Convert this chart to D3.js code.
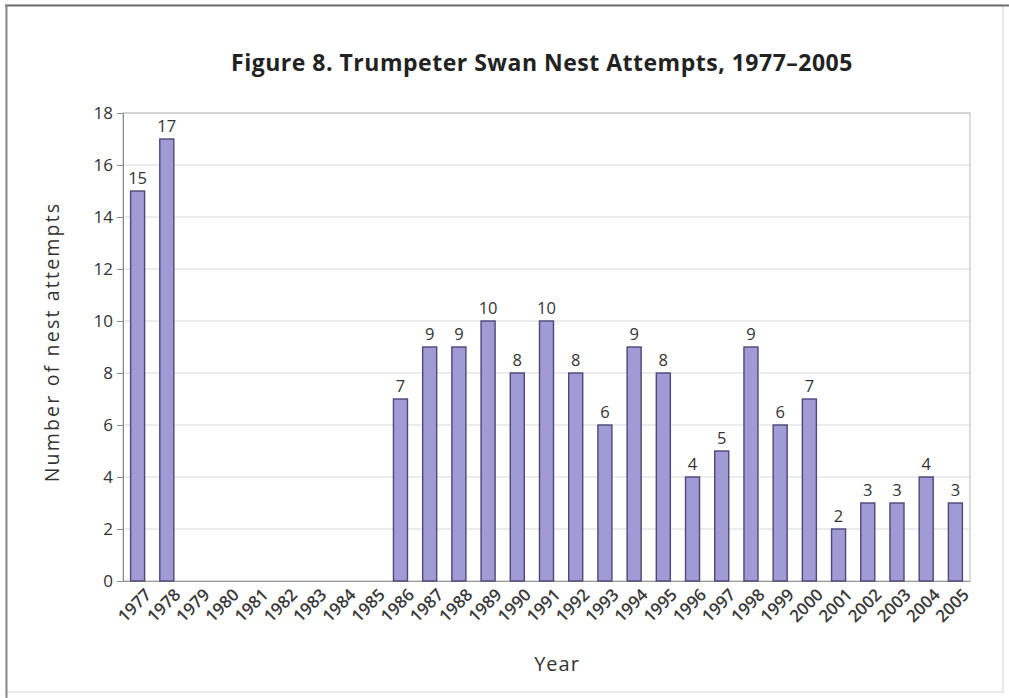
<!DOCTYPE html>
<html><head><meta charset="utf-8">
<script src="https://cdn.jsdelivr.net/npm/d3@7"></script>
<style>body{margin:0;background:#fff}svg{display:block}</style>
</head><body>
<script>
const years = ["1977","1978","1979","1980","1981","1982","1983","1984","1985","1986","1987","1988","1989","1990","1991","1992","1993","1994","1995","1996","1997","1998","1999","2000","2001","2002","2003","2004","2005"];
const nests = [15,17,null,null,null,null,null,null,null,7,9,9,10,8,10,8,6,9,8,4,5,9,6,7,2,3,3,4,3];
const yTicks = [0,2,4,6,8,10,12,14,16,18];
const title = "Figure 8. Trumpeter Swan Nest Attempts, 1977\u20132005";

const W=1009,H=698;
const svg=d3.select("body").append("svg").attr("width",W).attr("height",H);
const font="'Open Sans', sans-serif";

// frame
svg.append("rect").attr("x",6).attr("y",5).attr("width",997).attr("height",687).attr("fill","none").attr("stroke","#e2e2e2").attr("stroke-width",1.5);
svg.append("line").attr("x1",5).attr("x2",1009).attr("y1",5.5).attr("y2",5.5).attr("stroke","#6e6e6e").attr("stroke-width",2);
svg.append("line").attr("x1",6.5).attr("x2",6.5).attr("y1",5).attr("y2",698).attr("stroke","#8a8a8a").attr("stroke-width",2);

const L=123,R=970,T=113,B=581;
const x=d3.scaleBand().domain(years).range([L,R]).paddingInner(0.52).paddingOuter(0.26);
const y=d3.scaleLinear().domain([0,18]).range([B,T]);

// grid
svg.append("g").selectAll("line").data(yTicks.filter(d=>d>0)).join("line")
  .attr("x1",L).attr("x2",R).attr("y1",d=>y(d)).attr("y2",d=>y(d))
  .attr("stroke","#dadada").attr("stroke-width",1.2);
svg.append("rect").attr("x",L).attr("y",T).attr("width",R-L).attr("height",B-T)
  .attr("fill","none").attr("stroke","#c4c4c4").attr("stroke-width",1.2);

// y axis
const ya=svg.append("g").attr("transform",`translate(${L},0)`)
  .call(d3.axisLeft(y).tickValues(yTicks).tickSize(6).tickPadding(4));
ya.select(".domain").attr("stroke","#8a8a8a");
ya.selectAll(".tick line").attr("stroke","#8a8a8a");
ya.selectAll("text").attr("font-family",font).attr("font-size",17).attr("fill","#333");

// x axis
const xa=svg.append("g").attr("transform",`translate(0,${B})`)
  .call(d3.axisBottom(x).tickSize(0).tickPadding(6));
xa.select(".domain").attr("stroke","#9a9a9a");
xa.selectAll("text").attr("font-family",font).attr("font-size",17).attr("font-weight",600).attr("fill","#3a3a3a")
  .attr("text-anchor","end").attr("dy","0.3em")
  .attr("transform","translate(7,7) rotate(-45)");

// bars
const data=years.map((yr,i)=>({yr,v:nests[i]})).filter(d=>d.v!=null);
svg.append("g").selectAll("rect").data(data).join("rect")
  .attr("x",d=>x(d.yr)).attr("width",x.bandwidth())
  .attr("y",d=>y(d.v)).attr("height",d=>B-y(d.v))
  .attr("fill","#a09bd4").attr("stroke","#4c4878").attr("stroke-width",1.4);
svg.append("g").selectAll("text").data(data).join("text")
  .attr("x",d=>x(d.yr)+x.bandwidth()/2).attr("y",d=>y(d.v)-7)
  .attr("text-anchor","middle").attr("font-family",font).attr("font-size",16.5).attr("fill","#333")
  .text(d=>d.v);

// titles
svg.append("text").attr("x",542).attr("y",71).attr("text-anchor","middle")
  .attr("font-family",font).attr("font-weight","bold").attr("font-size",23).attr("letter-spacing",0.5).attr("fill","#222").text(title);
svg.append("text").attr("transform","translate(59,342) rotate(-90)").attr("text-anchor","middle")
  .attr("font-family",font).attr("font-size",19.5).attr("letter-spacing",2.2).attr("fill","#333").text("Number of nest attempts");
svg.append("text").attr("x",557).attr("y",671).attr("text-anchor","middle")
  .attr("font-family",font).attr("font-size",20).attr("letter-spacing",1).attr("fill","#333").text("Year");
</script>
</body></html>
